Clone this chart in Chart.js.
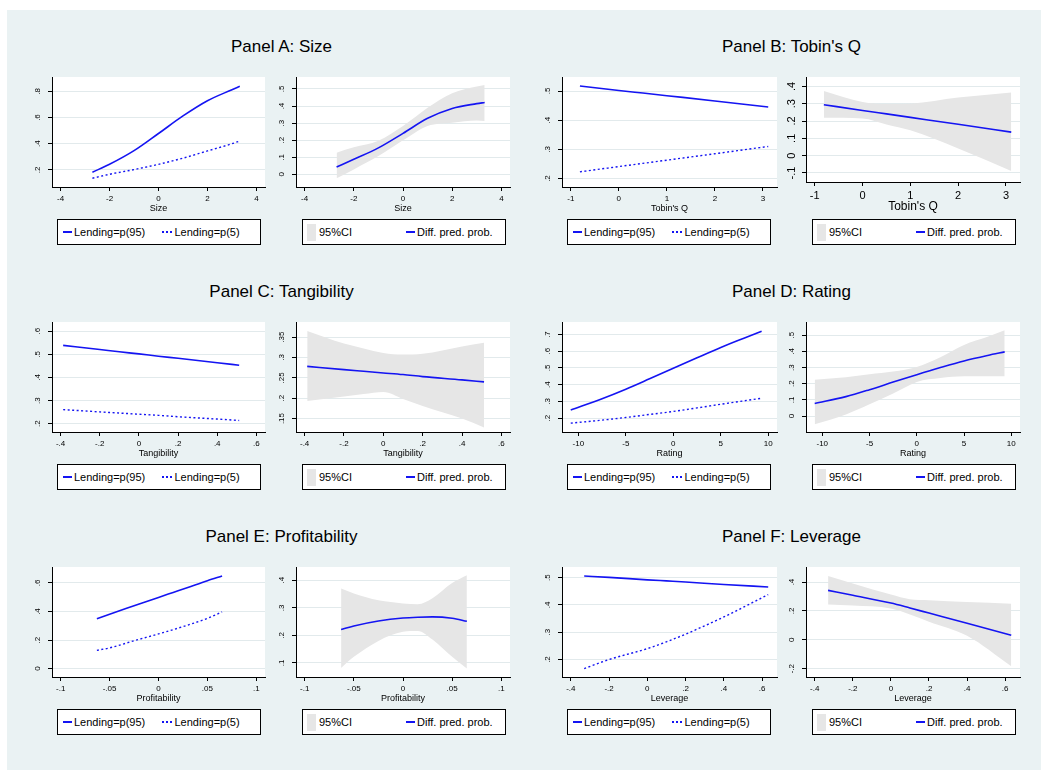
<!DOCTYPE html>
<html lang="en">
<head>
    <meta charset="UTF-8">
    <title>Predicted probabilities by lending</title>
    <script src="https://cdn.jsdelivr.net/npm/chart.js@4"></script>
    <style>
        body {
            margin: 0;
            background: #fff;
            font-family: "Liberation Sans", Arial, sans-serif;
        }

        #page {
            position: relative;
            width: 1047px;
            height: 774px;
            overflow: hidden;
        }

        #frame {
            position: absolute;
            left: 7px;
            top: 10px;
            width: 1034px;
            height: 760px;
            background: #eaf2f3;
        }

        .title {
            position: absolute;
            width: 400px;
            text-align: center;
            font-size: 17px;
            line-height: 20px;
            color: #000;
        }

        canvas.plot {
            position: absolute;
        }

        .legend {
            position: absolute;
            height: 26px;
            box-sizing: border-box;
            background: #fff;
            border: 1px solid #000;
            font-size: 11px;
            display: flex;
            align-items: center;
            padding-left: 5px;
        }

        .legend .item {
            width: 99px;
            display: flex;
            align-items: center;
        }

        .key-line {
            width: 9px;
            height: 2px;
            background: #1414f2;
            margin-right: 2px;
        }

        .key-dot {
            width: 11px;
            height: 2px;
            background: repeating-linear-gradient(90deg, #1414f2 0 2px, transparent 2px 4px);
            margin-right: 2px;
        }

        .key-band {
            width: 9px;
            height: 17px;
            background: #e6e6e6;
            margin-right: 3px;
        }
    </style>
</head>
<body>
<div id="page"><div id="frame"></div></div>

<script>
    // Panel A: Size
    const sizeX = [-2.7, -2, -1, 0, 1, 2, 3, 3.32];
    const sizeP95 = [0.183, 0.243, 0.347, 0.478, 0.612, 0.728, 0.812, 0.838];
    const sizeP5 = [0.137, 0.167, 0.203, 0.243, 0.290, 0.345, 0.400, 0.421];
    const sizeDiff = [0.043, 0.088, 0.155, 0.240, 0.328, 0.386, 0.414, 0.421];
    const sizeLo = [-0.023, 0.029, 0.107, 0.199, 0.283, 0.302, 0.315, 0.312];
    const sizeHi = [0.127, 0.158, 0.197, 0.283, 0.390, 0.475, 0.515, 0.523];
    const sizeXTicks = [-4, -2, 0, 2, 4];
    const sizeYTicks = [0.2, 0.4, 0.6, 0.8];
    const sizeDiffTicks = [0, 0.1, 0.2, 0.3, 0.4, 0.5];

    // Panel B: Tobin's Q
    const tobinX = [-0.81, 0, 0.5, 1, 2, 3.11];
    const tobinP95 = [0.517, 0.502, 0.493, 0.484, 0.466, 0.445];
    const tobinP5 = [0.223, 0.241, 0.252, 0.263, 0.285, 0.310];
    const tobinDiff = [0.294, 0.261, 0.241, 0.221, 0.181, 0.136];
    const tobinLo = [0.219, 0.215, 0.180, 0.146, 0.041, -0.088];
    const tobinHi = [0.373, 0.310, 0.298, 0.300, 0.335, 0.365];
    const tobinXTicks = [-1, 0, 1, 2, 3];
    const tobinYTicks = [0.2, 0.3, 0.4, 0.5];
    const tobinDiffTicks = [-0.1, 0, 0.1, 0.2, 0.3, 0.4];

    // Panel C: Tangibility
    const tangX = [-0.387, -0.2, -0.1, 0, 0.1, 0.2, 0.4, 0.512];
    const tangP95 = [0.539, 0.521, 0.511, 0.502, 0.492, 0.483, 0.464, 0.453];
    const tangP5 = [0.261, 0.251, 0.246, 0.241, 0.236, 0.230, 0.220, 0.214];
    const tangDiff = [0.278, 0.270, 0.266, 0.262, 0.258, 0.253, 0.245, 0.240];
    const tangLo = [0.193, 0.204, 0.210, 0.215, 0.198, 0.181, 0.150, 0.128];
    const tangHi = [0.365, 0.334, 0.322, 0.311, 0.307, 0.309, 0.327, 0.336];
    const tangXTicks = [-0.4, -0.2, 0, 0.2, 0.4, 0.6];
    const tangYTicks = [0.2, 0.3, 0.4, 0.5, 0.6];
    const tangDiffTicks = [0.15, 0.2, 0.25, 0.3, 0.35];

    // Panel D: Rating
    const ratingX = [-10.8, -7.5, -5, -2.5, 0, 2.5, 5, 7.5, 9.3];
    const ratingP95 = [0.249, 0.316, 0.373, 0.435, 0.498, 0.561, 0.623, 0.680, 0.720];
    const ratingP5 = [0.170, 0.188, 0.204, 0.222, 0.240, 0.261, 0.283, 0.304, 0.319];
    const ratingDiff = [0.077, 0.120, 0.163, 0.210, 0.256, 0.300, 0.341, 0.375, 0.397];
    const ratingLo = [-0.051, 0.010, 0.073, 0.139, 0.211, 0.235, 0.246, 0.246, 0.246];
    const ratingHi = [0.225, 0.240, 0.258, 0.275, 0.304, 0.364, 0.440, 0.490, 0.531];
    const ratingXTicks = [-10, -5, 0, 5, 10];
    const ratingYTicks = [0.2, 0.3, 0.4, 0.5, 0.6, 0.7];
    const ratingDiffTicks = [0, 0.1, 0.2, 0.3, 0.4, 0.5];

    // Panel E: Profitability
    const profX = [-0.063, -0.05, -0.025, 0, 0.015, 0.03, 0.05, 0.065];
    const profP95 = [0.350, 0.381, 0.440, 0.499, 0.534, 0.569, 0.616, 0.649];
    const profP5 = [0.128, 0.145, 0.195, 0.243, 0.273, 0.305, 0.352, 0.397];
    const profDiff = [0.221, 0.234, 0.252, 0.263, 0.266, 0.267, 0.262, 0.251];
    const profLo = [0.082, 0.122, 0.180, 0.213, 0.216, 0.185, 0.122, 0.080];
    const profHi = [0.370, 0.352, 0.327, 0.316, 0.313, 0.335, 0.390, 0.418];
    const profXTicks = [-0.1, -0.05, 0, 0.05, 0.1];
    const profYTicks = [0, 0.2, 0.4, 0.6];
    const profDiffTicks = [0.1, 0.2, 0.3, 0.4];

    // Panel F: Leverage
    const levX = [-0.33, -0.2, 0, 0.1, 0.2, 0.4, 0.632];
    const levP95 = [0.506, 0.501, 0.492, 0.488, 0.484, 0.475, 0.466];
    const levP5 = [0.167, 0.200, 0.240, 0.265, 0.293, 0.356, 0.438];
    const levDiff = [0.342, 0.308, 0.254, 0.220, 0.185, 0.115, 0.031];
    const levLo = [0.244, 0.237, 0.216, 0.175, 0.124, 0.027, -0.184];
    const levHi = [0.442, 0.389, 0.313, 0.280, 0.273, 0.261, 0.250];
    const levXTicks = [-0.4, -0.2, 0, 0.2, 0.4, 0.6];
    const levYTicks = [0.2, 0.3, 0.4, 0.5];
    const levDiffTicks = [-0.2, 0, 0.2, 0.4];

    const FONT = '"Liberation Sans", Arial, sans-serif';
    const BLUE = '#1414f2';
    const BAND = '#e6e6e6';
    const GRID = '#e2eaec';

    Chart.defaults.font.family = FONT;
    Chart.defaults.color = '#000';

    // Stata style numbers: .5, -.1, .05
    function fmt(v) {
        return String(Math.round(v * 1000) / 1000).replace(/^(-?)0\./, '$1.');
    }

    const pts = (xs, ys) => xs.map((x, i) => ({x: x, y: ys[i]}));

    // white plot region behind the data
    const plotBg = {
        id: 'plotBg',
        beforeDraw(chart) {
            const a = chart.chartArea, ctx = chart.ctx;
            ctx.save();
            ctx.fillStyle = '#fff';
            ctx.fillRect(a.left, a.top, a.right - a.left, a.bottom - a.top);
            ctx.restore();
        }
    };

    // vertical y labels, read bottom to top
    const yLabels = {
        id: 'yLabels',
        afterDraw(chart, args, opts) {
            const s = chart.scales.y, ctx = chart.ctx;
            ctx.save();
            ctx.font = opts.size + 'px ' + FONT;
            ctx.fillStyle = '#000';
            ctx.textAlign = 'center';
            ctx.textBaseline = 'middle';
            s.ticks.forEach(t => {
                ctx.save();
                ctx.translate(s.right - 14, s.getPixelForValue(t.value));
                ctx.rotate(-Math.PI / 2);
                ctx.fillText(fmt(t.value), 0, 0);
                ctx.restore();
            });
            ctx.restore();
        }
    };

    const page = document.getElementById('page');

    function addTitle(text, cx, cy) {
        const d = document.createElement('div');
        d.className = 'title';
        d.textContent = text;
        d.style.left = (cx - 200) + 'px';
        d.style.top = (cy - 10) + 'px';
        page.appendChild(d);
    }

    function addLegend(kind, left, top) {
        const d = document.createElement('div');
        d.className = 'legend';
        d.style.left = left + 'px';
        d.style.top = top + 'px';
        d.style.width = '204px';
        if (kind === 'pair') {
            d.innerHTML = '<div class="item"><span class="key-line"></span>Lending=p(95)</div>' +
                '<div class="item"><span class="key-dot"></span>Lending=p(5)</div>';
        } else {
            d.style.paddingLeft = '4px';
            d.innerHTML = '<div class="item"><span class="key-band"></span>95%CI</div>' +
                '<div class="item"><span class="key-line"></span>Diff. pred. prob.</div>';
        }
        page.appendChild(d);
    }

    // one Stata-like subplot; box = chart area [left, top, right, bottom]
    function addPlot(p) {
        const yW = 24, xH = p.big ? 32 : 27, padR = 6;
        const tickSize = p.big ? 11 : 8;
        const titleSize = p.big ? 12 : 9;
        const [l, t, r, b] = p.box;
        const c = document.createElement('canvas');
        c.className = 'plot';
        c.width = r - l + yW + padR;
        c.height = b - t + xH;
        c.style.left = (l - yW) + 'px';
        c.style.top = t + 'px';
        c.style.width = c.width + 'px';
        c.style.height = c.height + 'px';
        page.appendChild(c);

        let datasets;
        if (p.kind === 'pair') {
            datasets = [
                {data: pts(p.x, p.hi), borderColor: BLUE, borderWidth: 1.6},
                {data: pts(p.x, p.lo), borderColor: BLUE, borderWidth: 1.4, borderDash: [2, 2.5]}
            ];
        } else {
            datasets = [
                {data: pts(p.x, p.diff), borderColor: BLUE, borderWidth: 1.6},
                {data: pts(p.x, p.ciLo), borderWidth: 0, borderColor: 'rgba(0,0,0,0)'},
                {data: pts(p.x, p.ciHi), borderWidth: 0, borderColor: 'rgba(0,0,0,0)',
                    fill: '-1', backgroundColor: BAND}
            ];
        }
        datasets.forEach(ds => {
            ds.pointRadius = 0;
            ds.cubicInterpolationMode = 'monotone';
        });

        new Chart(c, {
            type: 'line',
            data: {datasets: datasets},
            options: {
                responsive: false,
                animation: false,
                events: [],
                devicePixelRatio: 1,
                layout: {padding: {left: 0, top: 0, right: padR, bottom: 0}},
                plugins: {
                    legend: {display: false},
                    tooltip: {enabled: false},
                    yLabels: {size: tickSize}
                },
                scales: {
                    x: {
                        type: 'linear',
                        min: p.xRange[0],
                        max: p.xRange[1],
                        afterBuildTicks: s => { s.ticks = p.xTicks.map(v => ({value: v})); },
                        afterFit: s => { s.height = xH; },
                        grid: {drawOnChartArea: false, tickLength: 4, tickColor: '#000'},
                        border: {color: '#000', width: 1},
                        ticks: {
                            font: {size: tickSize}, padding: 3, maxRotation: 0,
                            autoSkip: false, color: '#000', callback: v => fmt(v)
                        },
                        title: {display: true, text: p.xTitle, font: {size: titleSize}, padding: 0, color: '#000'}
                    },
                    y: {
                        type: 'linear',
                        min: p.yRange[0],
                        max: p.yRange[1],
                        afterBuildTicks: s => { s.ticks = p.yTicks.map(v => ({value: v})); },
                        afterFit: s => { s.width = yW; },
                        grid: {color: GRID, lineWidth: 1, tickLength: 4, tickColor: '#000'},
                        border: {color: '#000', width: 1},
                        ticks: {display: false}
                    }
                }
            },
            plugins: [plotBg, yLabels]
        });
    }

    // columns: left pair and right pair, each with levels plot and difference plot
    const colL = [[52, 265], [296, 510], [562, 777], [806, 1020]];
    const rowY = [[77, 187], [322, 432], [567, 677]];
    const legL = [57, 302, 567, 812];
    const legT = [219, 464, 709];

    const panels = [
        {title: 'Panel A: Size', col: 0, row: 0, xTitle: 'Size', x: sizeX, hi: sizeP95, lo: sizeP5,
            diff: sizeDiff, ciLo: sizeLo, ciHi: sizeHi, xTicks: sizeXTicks, xRange: [-4.35, 4.35],
            yTicks: sizeYTicks, yRange: [0.070, 0.909], dTicks: sizeDiffTicks, dRange: [-0.074, 0.570]},
        {title: "Panel B: Tobin's Q", col: 2, row: 0, xTitle: "Tobin's Q", x: tobinX, hi: tobinP95, lo: tobinP5,
            diff: tobinDiff, ciLo: tobinLo, ciHi: tobinHi, xTicks: tobinXTicks, xRange: [-1.183, 3.293],
            yTicks: tobinYTicks, yRange: [0.171, 0.548], dTicks: tobinDiffTicks, dRange: [-0.152, 0.454], bigDiff: true},
        {title: 'Panel C: Tangibility', col: 0, row: 1, xTitle: 'Tangibility', x: tangX, hi: tangP95, lo: tangP5,
            diff: tangDiff, ciLo: tangLo, ciHi: tangHi, xTicks: tangXTicks, xRange: [-0.444, 0.644],
            yTicks: tangYTicks, yRange: [0.164, 0.640], dTicks: tangDiffTicks, dRange: [0.117, 0.387]},
        {title: 'Panel D: Rating', col: 2, row: 1, xTitle: 'Rating', x: ratingX, hi: ratingP95, lo: ratingP5,
            diff: ratingDiff, ciLo: ratingLo, ciHi: ratingHi, xTicks: ratingXTicks, xRange: [-11.72, 10.92],
            yTicks: ratingYTicks, yRange: [0.117, 0.775], dTicks: ratingDiffTicks, dRange: [-0.099, 0.582]},
        {title: 'Panel E: Profitability', col: 0, row: 2, xTitle: 'Profitability', x: profX, hi: profP95, lo: profP5,
            diff: profDiff, ciLo: profLo, ciHi: profHi, xTicks: profXTicks, xRange: [-0.1089, 0.1089],
            yTicks: profYTicks, yRange: [-0.059, 0.712], dTicks: profDiffTicks, dRange: [0.049, 0.448]},
        {title: 'Panel F: Leverage', col: 2, row: 2, xTitle: 'Leverage', x: levX, hi: levP95, lo: levP5,
            diff: levDiff, ciLo: levLo, ciHi: levHi, xTicks: levXTicks, xRange: [-0.446, 0.678],
            yTicks: levYTicks, yRange: [0.136, 0.539], dTicks: levDiffTicks, dRange: [-0.258, 0.504]}
    ];

    panels.forEach(p => {
        const [t, b] = rowY[p.row];
        const c1 = colL[p.col], c2 = colL[p.col + 1];
        addTitle(p.title, (legL[p.col] + legL[p.col + 1] + 204) / 2, t - 30);
        addPlot({kind: 'pair', box: [c1[0], t, c1[1], b], x: p.x, hi: p.hi, lo: p.lo,
            xTicks: p.xTicks, xRange: p.xRange, yTicks: p.yTicks, yRange: p.yRange, xTitle: p.xTitle});
        addPlot({kind: 'diff', box: [c2[0], t, c2[1], p.bigDiff ? b - 5 : b], x: p.x, diff: p.diff,
            ciLo: p.ciLo, ciHi: p.ciHi, xTicks: p.xTicks, xRange: p.xRange, yTicks: p.dTicks,
            yRange: p.dRange, xTitle: p.xTitle, big: p.bigDiff});
        addLegend('pair', legL[p.col], legT[p.row]);
        addLegend('diff', legL[p.col + 1], legT[p.row]);
    });
</script>
</body>
</html>
